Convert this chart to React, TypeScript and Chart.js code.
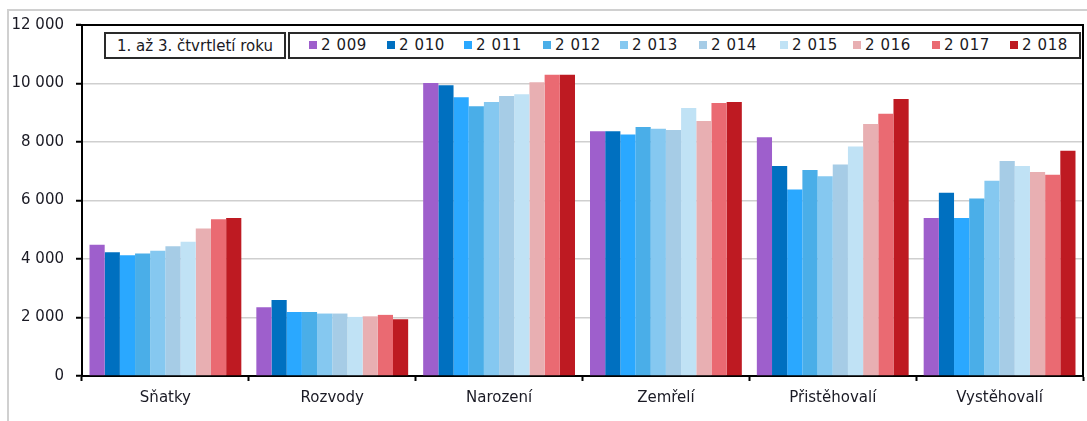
import React, { useEffect, useRef } from "react";
import { Chart, registerables } from "chart.js";

Chart.register(...registerables);

const categories = ["Sňatky", "Rozvody", "Narození", "Zemřelí", "Přistěhovalí", "Vystěhovalí"];
const years = ["2 009", "2 010", "2 011", "2 012", "2 013", "2 014", "2 015", "2 016", "2 017", "2 018"];
const yearColors = ["#9E5FCC", "#0070C0", "#2AA8FF", "#4AAEE8", "#85C8F0", "#A6CCE6", "#C0E2F5", "#E8AFB2", "#EA6A72", "#BE1A22"];

const v2009 = [4485, 2350, 10020, 8365, 8160, 5400];
const v2010 = [4235, 2600, 9940, 8365, 7180, 6265];
const v2011 = [4130, 2190, 9530, 8260, 6380, 5400];
const v2012 = [4190, 2190, 9220, 8515, 7040, 6070];
const v2013 = [4280, 2135, 9370, 8455, 6825, 6675];
const v2014 = [4440, 2135, 9575, 8410, 7235, 7350];
const v2015 = [4590, 2020, 9630, 9165, 7850, 7180];
const v2016 = [5045, 2040, 10040, 8720, 8615, 6975];
const v2017 = [5355, 2090, 10295, 9335, 8970, 6880];
const v2018 = [5400, 1940, 10295, 9370, 9470, 7700];
const seriesValues = [v2009, v2010, v2011, v2012, v2013, v2014, v2015, v2016, v2017, v2018];

const legendTitle = "1. až 3. čtvrtletí roku";
const FONT = "'DejaVu Sans', Verdana, sans-serif";

const legendSquareX = [309, 387, 464, 543, 620, 699, 780, 853, 932, 1010];

const framePlugin = {
  id: "frame",
  afterDraw(chart: any) {
    const { ctx, chartArea } = chart;
    ctx.save();
    ctx.strokeStyle = "#000";
    ctx.lineWidth = 2;
    ctx.beginPath();
    ctx.moveTo(chartArea.left - 6, chartArea.top);
    ctx.lineTo(chartArea.right, chartArea.top);
    ctx.lineTo(chartArea.right, chartArea.bottom);
    ctx.stroke();
    ctx.restore();
  },
};

export default function App() {
  const ref = useRef<HTMLCanvasElement>(null);
  useEffect(() => {
    if (!ref.current) return;
    const chart = new Chart(ref.current, {
      type: "bar",
      data: {
        labels: categories,
        datasets: seriesValues.map((vals, i) => ({
          label: years[i],
          data: vals,
          backgroundColor: yearColors[i],
          borderWidth: 0,
          categoryPercentage: 0.91,
          barPercentage: 1,
        })),
      },
      options: {
        animation: false,
        responsive: false,
        devicePixelRatio: 1,
        layout: { padding: { left: 0, top: 25, right: 4, bottom: 0 } },
        plugins: { legend: { display: false }, tooltip: { enabled: false } },
        scales: {
          x: {
            offset: true,
            grid: {
              offset: true,
              drawOnChartArea: false,
              drawTicks: true,
              tickLength: 5,
              tickColor: "#000",
              tickWidth: 2,
            },
            border: { color: "#000", width: 2 },
            ticks: { color: "#1a1a24", font: { family: FONT, size: 15 }, padding: 8 },
            afterFit: (s: any) => {
              s.height = 45;
            },
          },
          y: {
            min: 0,
            max: 12000,
            grid: {
              color: "#cfcfcf",
              lineWidth: 1.5,
              drawTicks: true,
              tickLength: 6,
              tickColor: "#000",
              tickWidth: 2,
            },
            border: { color: "#000", width: 2 },
            ticks: {
              stepSize: 2000,
              color: "#1a1a24",
              font: { family: FONT, size: 15 },
              padding: 12,
              callback: (v: any) => {
                const n = Number(v);
                if (n >= 1000) {
                  const th = Math.floor(n / 1000);
                  const rest = String(n % 1000).padStart(3, "0");
                  return th + " " + rest;
                }
                return String(n);
              },
            },
            afterFit: (s: any) => {
              s.width = 82;
            },
          },
        },
      },
      plugins: [framePlugin],
    });
    return () => chart.destroy();
  }, []);

  return (
    <div style={{ position: "fixed", left: 0, top: 0, width: 1087, height: 421, background: "#fff", overflow: "hidden", fontFamily: FONT }}>
      <div style={{ position: "absolute", left: 7, top: 9, width: 2000, height: 2000, border: "2px solid #d0d0d0" }} />
      <canvas ref={ref} width={1087} height={421} style={{ position: "absolute", left: 0, top: 0, width: 1087, height: 421 }} />
      <div
        style={{
          position: "absolute",
          left: 104,
          top: 32,
          width: 182,
          height: 27,
          boxSizing: "border-box",
          border: "2px solid #2a2a2a",
          background: "#fff",
          display: "flex",
          alignItems: "center",
          justifyContent: "center",
          fontSize: 15,
          color: "#1a1a24",
          whiteSpace: "nowrap",
        }}
      >
        {legendTitle}
      </div>
      <div
        style={{
          position: "absolute",
          left: 288,
          top: 32,
          width: 793,
          height: 27,
          boxSizing: "border-box",
          border: "2px solid #2a2a2a",
          background: "#fff",
        }}
      />
      {years.map((y, i) => (
        <React.Fragment key={y}>
          <div
            style={{
              position: "absolute",
              left: legendSquareX[i],
              top: 41,
              width: 8,
              height: 8,
              background: yearColors[i],
            }}
          />
          <div
            style={{
              position: "absolute",
              left: legendSquareX[i] + 12,
              top: 36,
              height: 18,
              lineHeight: "18px",
              fontSize: 15,
              letterSpacing: 0.6,
              color: "#1a1a24",
              whiteSpace: "nowrap",
            }}
          >
            {y}
          </div>
        </React.Fragment>
      ))}
    </div>
  );
}
